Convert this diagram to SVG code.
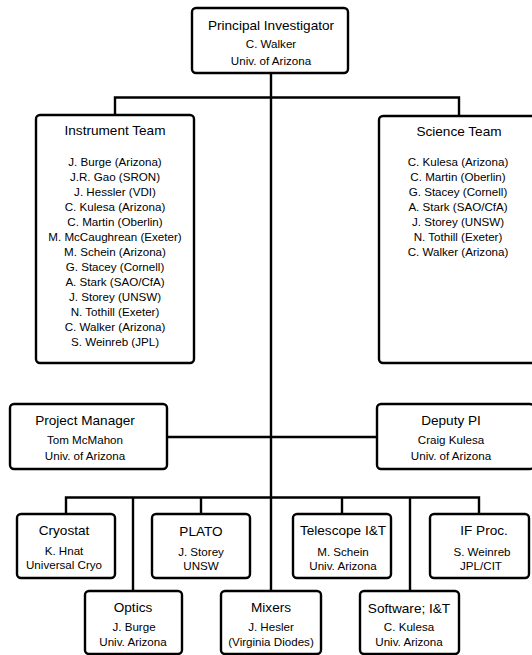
<svg xmlns="http://www.w3.org/2000/svg" width="532" height="655" viewBox="0 0 532 655">
<style>
.box{fill:#fff;stroke:#000;stroke-width:2.4}
.ln{fill:none;stroke:#000;stroke-width:2.4}
text{font-family:"Liberation Sans",Arial,sans-serif;fill:#000;text-anchor:middle}
.t{font-size:13.6px}
.b{font-size:11.6px}
</style>
<rect x="0" y="0" width="532" height="655" fill="#fff"/>
<g id="connectors">
<path class="ln" d="M271 73V591"/>
<path class="ln" d="M115 115V97.5H459V116"/>
<path class="ln" d="M167 437H377"/>
<path class="ln" d="M66 514V497.5H479V514"/>
<path class="ln" d="M133 497.5V591"/>
<path class="ln" d="M201 497.5V514"/>
<path class="ln" d="M342 497.5V514"/>
<path class="ln" d="M410 497.5V591"/>
</g>
<g id="pi">
<rect class="box" x="192" y="8" width="156" height="65" rx="4"/>
<text class="t" x="271" y="30">Principal Investigator</text>
<text class="b" x="271" y="47.5">C. Walker</text>
<text class="b" x="271" y="64.5">Univ. of Arizona</text>
</g>
<g id="instrument-team">
<rect class="box" x="36" y="115" width="158" height="248" rx="4"/>
<text class="t" x="115" y="135">Instrument Team</text>
<text class="b" x="115" y="166">J. Burge (Arizona)</text>
<text class="b" x="115" y="181">J.R. Gao (SRON)</text>
<text class="b" x="115" y="196">J. Hessler (VDI)</text>
<text class="b" x="115" y="211">C. Kulesa (Arizona)</text>
<text class="b" x="115" y="226">C. Martin (Oberlin)</text>
<text class="b" x="115" y="241">M. McCaughrean (Exeter)</text>
<text class="b" x="115" y="256">M. Schein (Arizona)</text>
<text class="b" x="115" y="271">G. Stacey (Cornell)</text>
<text class="b" x="115" y="286">A. Stark (SAO/CfA)</text>
<text class="b" x="115" y="301">J. Storey (UNSW)</text>
<text class="b" x="115" y="316">N. Tothill (Exeter)</text>
<text class="b" x="115" y="331">C. Walker (Arizona)</text>
<text class="b" x="115" y="346">S. Weinreb (JPL)</text>
</g>
<g id="science-team">
<rect class="box" x="379" y="116" width="158" height="247" rx="4"/>
<text class="t" x="459" y="136">Science Team</text>
<text class="b" x="458" y="166">C. Kulesa (Arizona)</text>
<text class="b" x="458" y="181">C. Martin (Oberlin)</text>
<text class="b" x="458" y="196">G. Stacey (Cornell)</text>
<text class="b" x="458" y="211">A. Stark (SAO/CfA)</text>
<text class="b" x="458" y="226">J. Storey (UNSW)</text>
<text class="b" x="458" y="241">N. Tothill (Exeter)</text>
<text class="b" x="458" y="256">C. Walker (Arizona)</text>
</g>
<g id="project-manager">
<rect class="box" x="10" y="404" width="157" height="65" rx="4"/>
<text class="t" x="85" y="425">Project Manager</text>
<text class="b" x="85" y="444">Tom McMahon</text>
<text class="b" x="85" y="460">Univ. of Arizona</text>
</g>
<g id="deputy-pi">
<rect class="box" x="377" y="404" width="157" height="65" rx="4"/>
<text class="t" x="451" y="425">Deputy PI</text>
<text class="b" x="451" y="444">Craig Kulesa</text>
<text class="b" x="451" y="460">Univ. of Arizona</text>
</g>
<g id="cryostat">
<rect class="box" x="17" y="514" width="98" height="64" rx="4"/>
<text class="t" x="64" y="535">Cryostat</text>
<text class="b" x="64" y="555">K. Hnat</text>
<text class="b" x="64" y="569">Universal Cryo</text>
</g>
<g id="plato">
<rect class="box" x="152" y="514" width="98" height="64" rx="4"/>
<text class="t" x="201" y="536">PLATO</text>
<text class="b" x="201" y="556">J. Storey</text>
<text class="b" x="201" y="570">UNSW</text>
</g>
<g id="telescope">
<rect class="box" x="293" y="514" width="98" height="64" rx="4"/>
<text class="t" x="343" y="535">Telescope I&amp;T</text>
<text class="b" x="343" y="556">M. Schein</text>
<text class="b" x="343" y="570">Univ. Arizona</text>
</g>
<g id="if-proc">
<rect class="box" x="430" y="514" width="99" height="64" rx="4"/>
<text class="t" x="484" y="535">IF Proc.</text>
<text class="b" x="482" y="556">S. Weinreb</text>
<text class="b" x="481" y="570">JPL/CIT</text>
</g>
<g id="optics">
<rect class="box" x="85" y="591" width="97" height="63" rx="4"/>
<text class="t" x="133" y="612">Optics</text>
<text class="b" x="134" y="631">J. Burge</text>
<text class="b" x="133" y="646">Univ. Arizona</text>
</g>
<g id="mixers">
<rect class="box" x="221" y="591" width="100" height="63" rx="4"/>
<text class="t" x="271" y="612">Mixers</text>
<text class="b" x="271" y="631">J. Hesler</text>
<text class="b" x="271" y="646">(Virginia Diodes)</text>
</g>
<g id="software">
<rect class="box" x="360" y="591" width="99" height="63" rx="4"/>
<text class="t" x="409" y="613">Software; I&amp;T</text>
<text class="b" x="409" y="631">C. Kulesa</text>
<text class="b" x="409" y="646">Univ. Arizona</text>
</g>
</svg>
